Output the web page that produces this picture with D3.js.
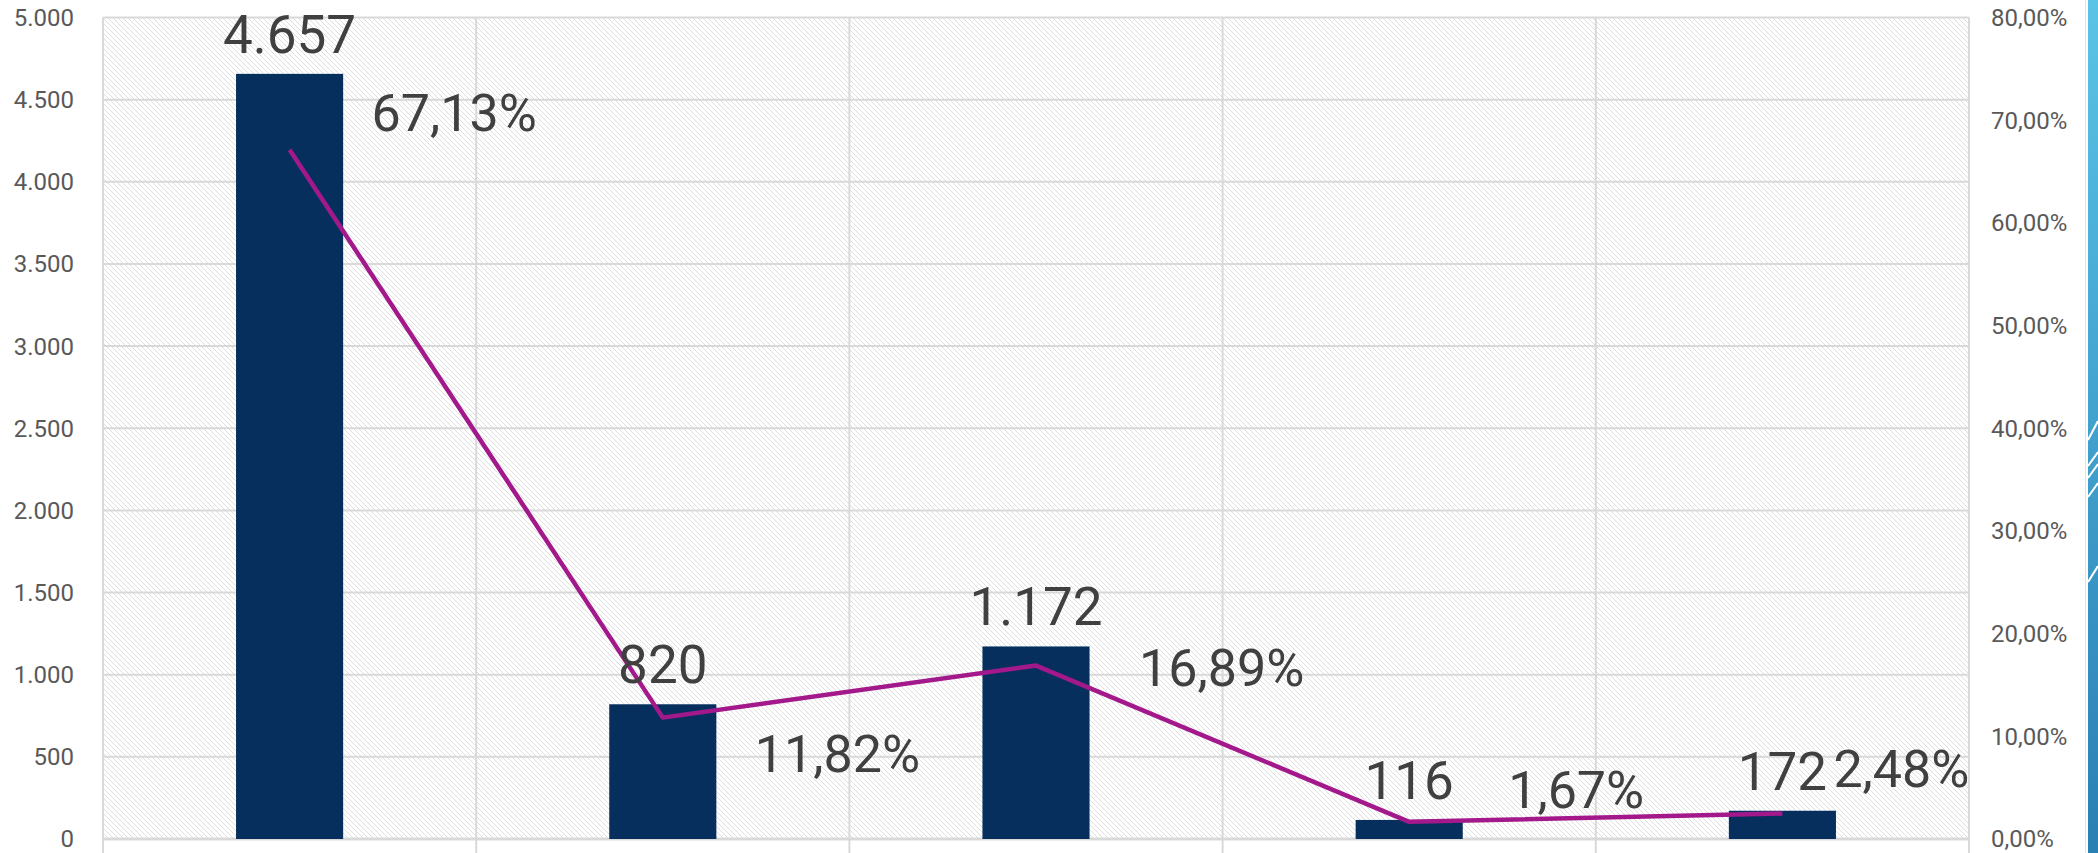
<!DOCTYPE html>
<html>
<head>
<meta charset="utf-8">
<script src="https://cdn.jsdelivr.net/npm/d3@7"></script>
<style>
  body { margin: 0; background: #fff; }
  svg { display: block; font-family: Roboto, "Noto Sans", sans-serif; }
</style>
</head>
<body>
<div id="chart"></div>
<script>
// data
const categories = ["c1", "c2", "c3", "c4", "c5"];
const counts = [4657, 820, 1172, 116, 172];
const shares = [67.13, 11.82, 16.89, 1.67, 2.48];
const leftTicks = [0, 500, 1000, 1500, 2000, 2500, 3000, 3500, 4000, 4500, 5000];
const rightTicks = [0, 10, 20, 30, 40, 50, 60, 70, 80];

// hand placed share labels (offset from the point, like in the original)
const shareLabelOffset = [[82, -19], [92, 54], [103, 20], [99, -14], [51, -27]];

const W = 2098, H = 853;
const margin = {top: 17.5, left: 103, right: 129, bottom: 14};
const plotW = W - margin.left - margin.right,
      plotB = H - margin.bottom;

const loc = d3.formatLocale({decimal: ",", thousands: ".", grouping: [3], currency: ["", ""]});
const fmtInt = loc.format(",d");
const fmtPct = v => loc.format(",.2f")(v) + "%";

const svg = d3.select("#chart").append("svg")
    .attr("width", W)
    .attr("height", H);

// hatch fill of the plot area
const defs = svg.append("defs");
defs.append("pattern")
    .attr("id", "hatch")
    .attr("patternUnits", "userSpaceOnUse")
    .attr("width", 5).attr("height", 5)
  .append("path")
    .attr("d", "M0,0L5,5M-1,4L1,6M4,-1L6,1")
    .attr("stroke", "#dadada")
    .attr("stroke-width", 0.9);

const grad = defs.append("linearGradient")
    .attr("id", "strip")
    .attr("x1", 0).attr("y1", 0).attr("x2", 0).attr("y2", 1);
grad.append("stop").attr("offset", 0).attr("stop-color", "#5ac4e6");
grad.append("stop").attr("offset", 1).attr("stop-color", "#2a7fb3");

const x = d3.scaleBand()
    .domain(categories)
    .range([margin.left, margin.left + plotW]);
const y = d3.scaleLinear()
    .domain([0, 5000])
    .range([plotB, margin.top]);
const y2 = d3.scaleLinear()
    .domain([0, 80])
    .range([plotB, margin.top]);

svg.append("rect")
    .attr("x", margin.left).attr("y", margin.top)
    .attr("width", plotW).attr("height", plotB - margin.top)
    .attr("fill", "url(#hatch)");

// horizontal grid
svg.append("g")
    .selectAll("line")
    .data(leftTicks)
    .join("line")
      .attr("x1", margin.left).attr("x2", margin.left + plotW)
      .attr("y1", d => y(d)).attr("y2", d => y(d))
      .attr("stroke", "#d9d9d9")
      .attr("stroke-width", d => d === 0 ? 3 : 2);

// category boundaries, running down past the axis
const bounds = categories.map(c => x(c)).concat([margin.left + plotW]);
svg.append("g")
    .selectAll("line")
    .data(bounds)
    .join("line")
      .attr("x1", d => d).attr("x2", d => d)
      .attr("y1", margin.top).attr("y2", H)
      .attr("stroke", "#d9d9d9")
      .attr("stroke-width", 2);

// left axis labels
svg.append("g")
    .selectAll("text")
    .data(leftTicks)
    .join("text")
      .attr("x", 74)
      .attr("y", d => y(d))
      .attr("dy", "0.35em")
      .attr("text-anchor", "end")
      .attr("fill", "#595959")
      .style("font-size", "24px")
      .text(d => fmtInt(d));

// right axis labels
svg.append("g")
    .selectAll("text")
    .data(rightTicks)
    .join("text")
      .attr("x", 1991)
      .attr("y", d => y2(d))
      .attr("dy", "0.35em")
      .attr("fill", "#595959")
      .style("font-size", "24px")
      .text(d => fmtPct(d));

// bars
const barW = x.bandwidth() * 0.287;
svg.append("g")
    .selectAll("rect")
    .data(counts)
    .join("rect")
      .attr("x", (d, i) => x(categories[i]) + (x.bandwidth() - barW) / 2)
      .attr("y", d => y(d))
      .attr("width", barW)
      .attr("height", d => y(0) - y(d))
      .attr("fill", "#062f5e");

// share line
const cx = i => x(categories[i]) + x.bandwidth() / 2;
svg.append("path")
    .datum(shares)
    .attr("fill", "none")
    .attr("stroke", "#a3198c")
    .attr("stroke-width", 4.5)
    .attr("stroke-linejoin", "round")
    .attr("d", d3.line().x((d, i) => cx(i)).y(d => y2(d)));

// value labels
svg.append("g")
    .selectAll("text")
    .data(counts)
    .join("text")
      .attr("x", (d, i) => cx(i))
      .attr("y", d => y(d) - 21)
      .attr("text-anchor", "middle")
      .attr("fill", "#404040")
      .style("font-size", "53px")
      .text(d => fmtInt(d));

svg.append("g")
    .selectAll("text")
    .data(shares)
    .join("text")
      .attr("x", (d, i) => cx(i) + shareLabelOffset[i][0])
      .attr("y", (d, i) => y2(d) + shareLabelOffset[i][1])
      .attr("fill", "#404040")
      .style("font-size", "52px")
      .text(d => fmtPct(d));

// blue strip on the right edge
svg.append("line")
    .attr("x1", 2085.5).attr("x2", 2085.5)
    .attr("y1", 0).attr("y2", H)
    .attr("stroke", "#e2e2e2");
svg.append("rect")
    .attr("x", 2088).attr("y", 0)
    .attr("width", 10).attr("height", H)
    .attr("fill", "url(#strip)");
svg.append("g")
    .selectAll("line")
    .data([[440, 421], [466, 452], [478, 464], [497, 483], [582, 566]])
    .join("line")
      .attr("x1", 2088).attr("y1", d => d[0])
      .attr("x2", 2098).attr("y2", d => d[1])
      .attr("stroke", "#fff")
      .attr("stroke-width", 2);
</script>
</body>
</html>
